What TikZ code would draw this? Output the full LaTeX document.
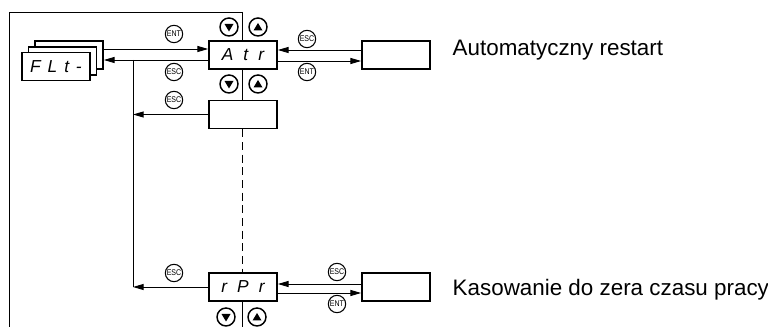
\documentclass[tikz,border=0pt]{standalone}
\usepackage{fontspec}
\setmainfont{Liberation Sans}
\newfontfamily\segfont{Liberation Sans}[LetterSpace=30]
\newfontfamily\segfontb{Liberation Sans}[LetterSpace=12]
\newfontfamily\keyfont{Liberation Sans}[FakeStretch=0.85]
\usetikzlibrary{arrows.meta}
\newcommand\trdown[1]{\fill (#1.center) ++(-4.5,-3) -- ++(9,0) -- ++(-4.5,7.5) -- cycle;}
\newcommand\trup[1]{\fill (#1.center) ++(-4.5,3.5) -- ++(9,0) -- ++(-4.5,-7.5) -- cycle;}
\begin{document}
\begin{tikzpicture}[x=0.75pt,y=-0.75pt,
  disp/.style={draw, line width=1.3pt, fill=white, minimum width=51pt, minimum height=21pt, inner sep=0pt,
    font=\segfont\itshape\fontsize{13}{14}\selectfont},
  ln/.style={line width=0.7pt},
  arr/.style={ln, -{Triangle[length=8pt,width=4.5pt]}},
  keybtn/.style={circle, draw, line width=0.8pt, fill=white, minimum size=13pt, inner sep=0pt,
    font=\keyfont\fontsize{6.2}{6.5}\selectfont},
  navbtn/.style={circle, draw, line width=1.1pt, fill=white, minimum size=13.5pt, inner sep=0pt},
  lbl/.style={anchor=base west, font=\fontsize{16.8}{19}\selectfont}
]
\useasboundingbox (0,0) rectangle (768,327);

% outer frame and main vertical
\draw[ln] (9,327) -- (9,12) -- (242,12) coordinate (ctop);
\coordinate (cbot) at (242,327);

% FLt stack
\node[disp] (flt3) at (69,55) {};
\node[disp] (flt2) at (62.5,61) {};
\node[disp, font=\segfontb\itshape\fontsize{13}{14}\selectfont] (flt1) at (56,66.5) {F L t -};

% displays
\node[disp] (atr) at (243,55) {A t r};
\node[disp] (mid) at (243,114.5) {};
\node[disp] (rpr) at (243,287) {r P r};
\node[disp] (atrv) at (396,55) {};
\node[disp] (rprv) at (396,287) {};

% vertical through the buttons
\draw[ln] (ctop) -- (atr.north -| ctop);
\draw[ln] (atr.south -| ctop) -- (mid.north -| ctop);
\draw[ln, dash pattern=on 6pt off 3.5pt] (mid.south -| ctop) -- (rpr.north -| ctop);
\draw[ln] (rpr.south -| ctop) -- (cbot);

% FLt <-> Atr
\draw[arr] (flt3.east |- 0,49) -- (atr.west |- 0,49);
\draw[arr] (atr.west |- 0,60) -- (flt3.east |- 0,60);
\coordinate (jtop) at (133,60);
\coordinate (jmid) at (133,114.5);
\coordinate (jbot) at (133,287);
\draw[ln] (jtop) -- (jbot);
\draw[arr] (mid.west) -- (jmid);
\draw[arr] (rpr.west) -- (jbot);

% Atr <-> value
\draw[arr] (atrv.west |- 0,50) -- (atr.east |- 0,50);
\draw[arr] (atr.east |- 0,61) -- (atrv.west |- 0,61);
% rPr <-> value
\draw[arr] (rprv.west |- 0,284) -- (rpr.east |- 0,284);
\draw[arr] (rpr.east |- 0,293) -- (rprv.west |- 0,293);

% ENT / ESC keys
\node[keybtn] (k1) at (174,34) {ENT};
\node[keybtn] (k2) at (174,72) {ESC};
\node[keybtn] (k3) at (174,100) {ESC};
\node[keybtn] (k4) at (174,273) {ESC};
\node[keybtn] (k5) at (307,39) {ESC};
\node[keybtn] (k6) at (307,72) {ENT};
\node[keybtn] (k7) at (337,272) {ESC};
\node[keybtn] (k8) at (337,304) {ENT};

% navigation buttons
\node[navbtn] (d1) at (229,27) {};
\node[navbtn] (u1) at (258,27) {};
\node[navbtn] (d2) at (229,84) {};
\node[navbtn] (u2) at (258,84) {};
\node[navbtn] (d3) at (226,317) {};
\node[navbtn] (u3) at (257,317) {};
\trdown{d1} \trup{u1} \trdown{d2} \trup{u2} \trdown{d3} \trup{u3}

% labels
\node[lbl] (l1) at (448,56) {Automatyczny restart};
\node[lbl] (l2) at (448,296) {Kasowanie do zera czasu pracy};
\end{tikzpicture}
\end{document}
